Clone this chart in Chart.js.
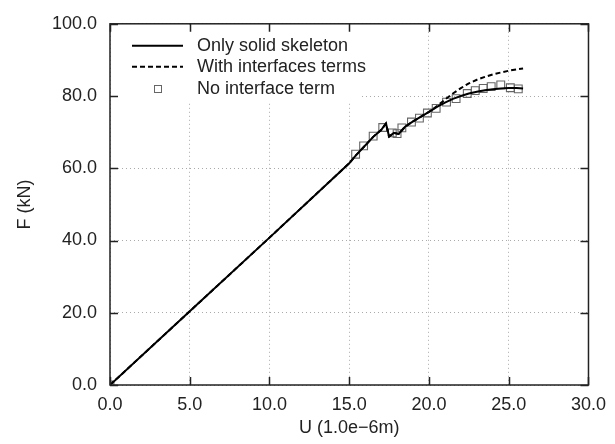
<!DOCTYPE html>
<html>
<head>
<meta charset="utf-8">
<script src="https://cdn.jsdelivr.net/npm/chart.js@4"></script>
<style>
  body { margin: 0; background: #fff; }
  #wrap { width: 615px; height: 444px; }
</style>
</head>
<body>
<div id="wrap"><canvas id="chart"></canvas></div>
<script>
// values: U in 1.0e-6 m, F in kN
const solidU = [0, 5, 10, 15, 15.4, 16, 16.5, 17, 17.3, 17.5, 17.8, 18.1, 18.5, 19, 19.5, 20, 20.5, 21, 21.5, 22, 22.5, 23, 23.5, 24, 24.5, 25, 25.5, 25.9];
const solidF = [0, 20.4, 40.8, 61.4, 63.5, 66.3, 68.7, 70.6, 72.4, 68.8, 69.8, 69.5, 71.5, 73, 74.3, 75.6, 77, 78.2, 79.2, 80, 80.7, 81.2, 81.6, 81.9, 82.1, 82.2, 82.2, 82.1];

const dashU = [0, 5, 10, 15, 15.4, 16, 16.5, 17, 17.3, 17.5, 17.8, 18.1, 18.5, 19, 19.5, 20, 20.5, 21, 21.5, 22, 22.5, 23, 23.5, 24, 24.5, 25, 25.5, 25.9];
const dashF = [0, 20.4, 40.8, 61.4, 63.5, 66.3, 68.7, 70.6, 72.4, 68.8, 69.8, 69.5, 71.5, 73, 74.3, 75.6, 77.2, 79, 80.7, 82.2, 83.5, 84.5, 85.3, 86, 86.5, 87, 87.4, 87.6];

const squareU = [0, 15.4, 15.9, 16.5, 17.1, 17.7, 18.0, 18.3, 18.9, 19.4, 19.9, 20.45, 21.1, 21.7, 22.4, 22.9, 23.4, 23.9, 24.5, 25.1, 25.6];
const squareF = [0, 63.9, 66.2, 68.9, 71.3, 69.8, 69.6, 71.2, 72.8, 73.9, 75.3, 76.6, 78.3, 79.3, 80.7, 81.5, 82.1, 82.6, 83.1, 82.3, 82.0];

const legendNames = ["Only solid skeleton", "With interfaces terms", "No interface term"];
const xTicks = [0, 5, 10, 15, 20, 25, 30];
const yTicks = [0, 20, 40, 60, 80, 100];

function pts(xs, ys) {
  return xs.map(function (x, i) { return { x: x, y: ys[i] }; });
}

const FONT = "'Liberation Sans', Arial, sans-serif";
const TXT = "#222";

// frame, inward ticks and the legend box, like the original plot
const framePlugin = {
  id: "frame",
  afterDraw: function (chart) {
    const ctx = chart.ctx;
    const a = chart.chartArea;
    const xs = chart.scales.x;
    const ys = chart.scales.y;
    ctx.save();

    // legend area hides the grid
    ctx.fillStyle = "#fff";
    ctx.fillRect(a.left + 1, a.top + 1, 250, 77);

    ctx.strokeStyle = "#222";
    ctx.lineWidth = 1.5;
    ctx.strokeRect(a.left, a.top, a.right - a.left, a.bottom - a.top);

    ctx.beginPath();
    xTicks.forEach(function (v) {
      const px = Math.round(xs.getPixelForValue(v)) + 0.5;
      ctx.moveTo(px, a.bottom); ctx.lineTo(px, a.bottom - 8);
      ctx.moveTo(px, a.top); ctx.lineTo(px, a.top + 8);
    });
    yTicks.forEach(function (v) {
      const py = Math.round(ys.getPixelForValue(v)) + 0.5;
      ctx.moveTo(a.left, py); ctx.lineTo(a.left + 8, py);
      ctx.moveTo(a.right, py); ctx.lineTo(a.right - 8, py);
    });
    ctx.stroke();

    // legend
    ctx.font = "18px " + FONT;
    ctx.fillStyle = TXT;
    ctx.textBaseline = "middle";
    ctx.textAlign = "left";
    const lx0 = a.left + 22, lx1 = a.left + 73, tx = a.left + 87;
    const rows = [a.top + 22, a.top + 43, a.top + 65];

    ctx.strokeStyle = "#000";
    ctx.lineWidth = 2;
    ctx.setLineDash([]);
    ctx.beginPath(); ctx.moveTo(lx0, rows[0]); ctx.lineTo(lx1, rows[0]); ctx.stroke();
    ctx.setLineDash([5, 3]);
    ctx.beginPath(); ctx.moveTo(lx0, rows[1]); ctx.lineTo(lx1, rows[1]); ctx.stroke();
    ctx.setLineDash([]);
    ctx.strokeStyle = "#666";
    ctx.lineWidth = 1;
    ctx.strokeRect(Math.round((lx0 + lx1) / 2) - 3.5, Math.round(rows[2]) - 3.5, 7, 7);

    legendNames.forEach(function (name, i) {
      ctx.fillText(name, tx, rows[i]);
    });
    ctx.restore();
  },
};

new Chart(document.getElementById("chart"), {
  type: "scatter",
  data: {
    datasets: [
      {
        label: legendNames[0],
        data: pts(solidU, solidF),
        showLine: true,
        borderColor: "#000",
        borderWidth: 2,
        pointRadius: 0,
        tension: 0,
      },
      {
        label: legendNames[1],
        data: pts(dashU, dashF),
        showLine: true,
        borderColor: "#000",
        borderWidth: 2,
        borderDash: [5, 3],
        pointRadius: 0,
        tension: 0,
      },
      {
        label: legendNames[2],
        data: pts(squareU, squareF),
        showLine: false,
        pointStyle: "rect",
        pointRadius: 5.5,
        borderColor: "#666",
        borderWidth: 1.1,
        backgroundColor: "rgba(0,0,0,0)",
      },
    ],
  },
  options: {
    responsive: true,
    maintainAspectRatio: false,
    animation: false,
    layout: { padding: { top: 17, right: 18, left: 0, bottom: 0 } },
    plugins: {
      legend: { display: false },
      tooltip: { enabled: false },
    },
    scales: {
      x: {
        type: "linear",
        min: 0,
        max: 30,
        afterBuildTicks: function (scale) {
          scale.ticks = xTicks.map(function (v) { return { value: v }; });
        },
        afterFit: function (scale) { scale.height = 59; },
        grid: { color: "#aaa", lineWidth: 1, drawTicks: false },
        border: { display: false, dash: [1, 3] },
        ticks: {
          padding: 9,
          color: TXT,
          font: { family: FONT, size: 18 },
          maxRotation: 0,
          callback: function (v) { return Number(v).toFixed(1); },
        },
        title: {
          display: true,
          text: "U (1.0e\u22126m)",
          color: TXT,
          font: { family: FONT, size: 18 },
          padding: { top: 0, bottom: 5 },
        },
      },
      y: {
        min: 0,
        max: 100,
        afterBuildTicks: function (scale) {
          scale.ticks = yTicks.map(function (v) { return { value: v }; });
        },
        afterFit: function (scale) { scale.width = 110; },
        grid: { color: "#aaa", lineWidth: 1, drawTicks: false },
        border: { display: false, dash: [1, 3] },
        ticks: {
          padding: 13,
          color: TXT,
          font: { family: FONT, size: 18 },
          callback: function (v) { return Number(v).toFixed(1); },
        },
        title: {
          display: true,
          text: "F (kN)",
          color: TXT,
          font: { family: FONT, size: 18 },
          padding: { top: 14, bottom: 0 },
        },
      },
    },
  },
  plugins: [framePlugin],
});
</script>
</body>
</html>
